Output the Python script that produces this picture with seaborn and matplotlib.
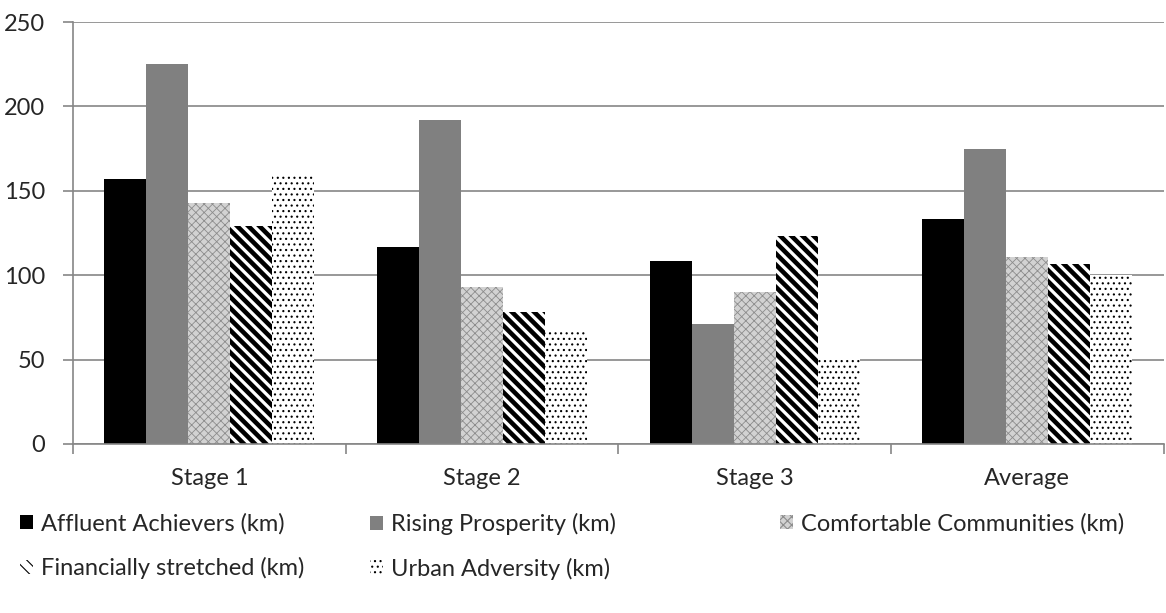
import matplotlib
matplotlib.use("Agg")
import matplotlib.pyplot as plt
import matplotlib.patches as mpatches
import seaborn as sns
import pandas as pd

# --- DATA ---
stages = ["Stage 1", "Stage 2", "Stage 3", "Average"]
groups = ["Affluent Achievers (km)", "Rising Prosperity (km)", "Comfortable Communities (km)",
          "Financially stretched (km)", "Urban Adversity (km)"]
affluent = [157, 117, 108.5, 133]
rising = [225, 192, 71, 175]
comfortable = [143, 93, 90, 111]
stretched = [129, 78, 123, 106.5]
urban = [159, 67.5, 51.5, 100]
y_ticks = [0, 50, 100, 150, 200, 250]

series = [affluent, rising, comfortable, stretched, urban]
rows = []
for g, vals in zip(groups, series):
    for s, v in zip(stages, vals):
        rows.append({"stage": s, "group": g, "km": v})
df = pd.DataFrame(rows)

# --- STYLE ---
sns.set_style("white")
plt.rcParams["font.family"] = ["Lato", "DejaVu Sans"]
plt.rcParams["hatch.linewidth"] = 0.8
FS = 17

faces = ["#000000", "#808080", "#d2d2d2", "#ffffff", "#ffffff"]
hatch_cols = ["#000000", "#808080", "#8c8c8c", "#000000", "#000000"]
hatches = [None, None, "xxxx", "\\\\\\", "..."]
hatch_lw = [0.8, 0.8, 0.6, 3.3, 0.8]

fig = plt.figure(figsize=(11.66, 6.13), dpi=100)
ax = fig.add_axes([0.0626, 0.2757, 0.9354, 0.6884])

sns.barplot(data=df, x="stage", y="km", hue="group", hue_order=groups, order=stages,
            palette=faces, width=0.77, gap=0, saturation=1, legend=False, ax=ax)

for i, cont in enumerate(ax.containers):
    for p in cont:
        p.set_facecolor(faces[i])
        p.set_edgecolor(hatch_cols[i])
        p.set_linewidth(0)
        if hatches[i]:
            p.set_hatch(hatches[i])
            if hasattr(p, "set_hatch_linewidth"):
                p.set_hatch_linewidth(hatch_lw[i])

# --- AXES ---
ax.set_ylim(0, 250)
ax.set_xlim(-0.5, 3.5)
ax.set_yticks(y_ticks)
ax.yaxis.grid(True, color="#868686", linewidth=1.2)
ax.set_axisbelow(True)
ax.set_xlabel("")
ax.set_ylabel("")
for side in ["top", "right"]:
    ax.spines[side].set_visible(False)
for side in ["left", "bottom"]:
    ax.spines[side].set_color("#868686")
    ax.spines[side].set_linewidth(1.2)

ax.set_xticks([-0.5, 0.5, 1.5, 2.5, 3.5], minor=True)
ax.tick_params(axis="x", which="major", length=0, pad=17, labelsize=FS)
ax.tick_params(axis="x", which="minor", length=7, color="#868686", width=1.2, direction="out")
ax.tick_params(axis="y", length=7, color="#868686", width=1.2, direction="out", labelsize=FS, pad=13)
ax.tick_params(bottom=True, left=True, which="both")

# --- LEGEND (row-major, fixed columns like the original) ---
handles = []
for i in range(len(groups)):
    h = mpatches.Patch(facecolor=faces[i], edgecolor=hatch_cols[i], linewidth=0,
                       hatch=hatches[i], label=groups[i])
    if hatches[i] and hasattr(h, "set_hatch_linewidth"):
        h.set_hatch_linewidth(hatch_lw[i] * 0.6)
    handles.append(h)

col_x = [0.017, 0.317, 0.669]
col_items = [[0, 3], [1, 4], [2]]
for x, items in zip(col_x, col_items):
    fig.legend([handles[k] for k in items], [groups[k] for k in items],
               loc="upper left", bbox_to_anchor=(x, 0.163), frameon=False,
               fontsize=FS, handlelength=0.55, handleheight=0.55,
               handletextpad=0.35, labelspacing=0.95, borderaxespad=0, borderpad=0)

fig.savefig("out.png", dpi=100)
